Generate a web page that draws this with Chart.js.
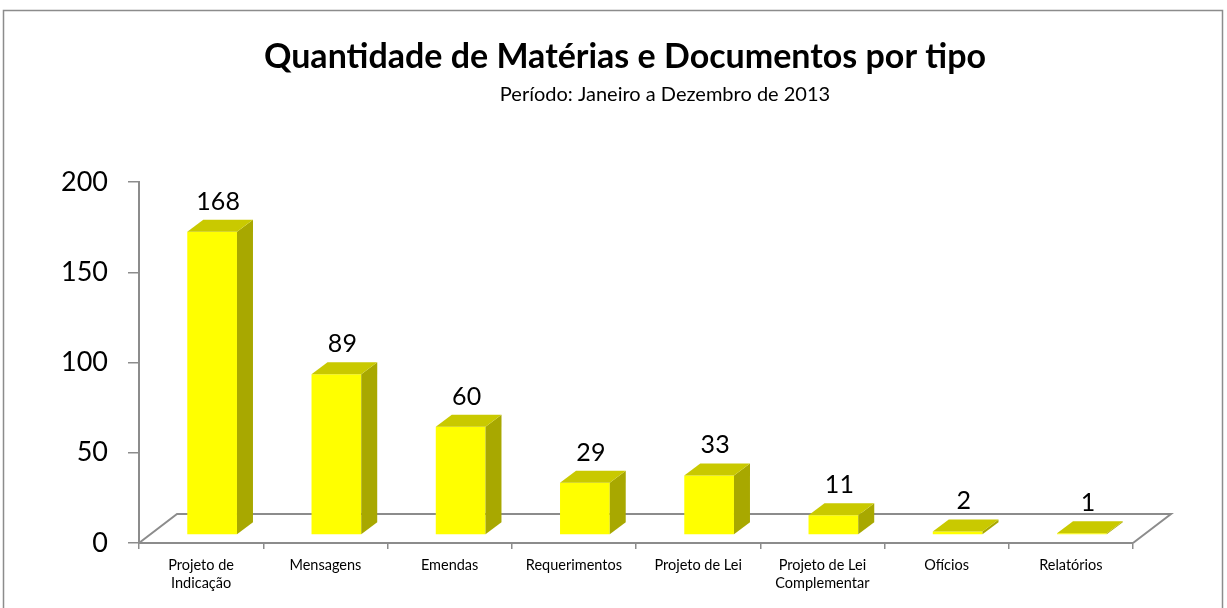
<!DOCTYPE html>
<html>
<head>
<meta charset="utf-8">
<script src="https://cdn.jsdelivr.net/npm/chart.js@4.4.0/dist/chart.umd.min.js"></script>
<style>
    body { margin: 0; background: #ffffff; }
    #wrap { position: relative; width: 1227px; height: 608px; }
</style>
</head>
<body>
<div id="wrap"><canvas id="grafico_Tipos"></canvas></div>
<script>
// dados do grafico
var categorias = [["Projeto de", "Indicação"], "Mensagens", "Emendas", "Requerimentos",
    "Projeto de Lei", ["Projeto de Lei", "Complementar"], "Ofícios", "Relatórios"];
var quantidades = [168, 89, 60, 29, 33, 11, 2, 1];
var ticksY = [0, 50, 100, 150, 200];

var tituloTexto = "Quantidade de Matérias e Documentos por tipo";
var subtituloTexto = "Período: Janeiro a Dezembro de 2013";

// cores das faces da barra 3d
var corFrente = "#FFFF00";
var corTopo = "#C9C900";
var corLado = "#A8A800";
var corEixo = "#8C8C8C";

var fonte = "Lato, 'Open Sans', sans-serif";

// profundidade da barra e do piso
var barDx = 16, barDy = 12;
var pisoDx = 38, pisoDy = 29;
var shiftX = 11, shiftY = -8;

var efeito3d = {
    id: "efeito3d",
    beforeDraw: function (chart) {
        var ctx = chart.ctx;
        ctx.save();
        // moldura
        ctx.strokeStyle = corEixo;
        ctx.lineWidth = 1.5;
        ctx.strokeRect(3.5, 10.5, 1219, 640);
        // titulo
        ctx.fillStyle = "#000";
        ctx.textAlign = "center";
        ctx.textBaseline = "middle";
        ctx.font = "bold 34px " + fonte;
        ctx.fillText(tituloTexto, 625, 57);
        ctx.font = "20px " + fonte;
        ctx.fillText(subtituloTexto, 665, 95);
        ctx.restore();
    },
    beforeDatasetsDraw: function (chart) {
        var ctx = chart.ctx;
        var a = chart.chartArea;
        // piso
        ctx.save();
        ctx.strokeStyle = corEixo;
        ctx.lineWidth = 2;
        ctx.beginPath();
        ctx.moveTo(a.left, a.bottom);
        ctx.lineTo(a.left + pisoDx, a.bottom - pisoDy);
        ctx.lineTo(a.right + pisoDx, a.bottom - pisoDy);
        ctx.lineTo(a.right, a.bottom);
        ctx.stroke();
        ctx.restore();

        ctx.save();
        ctx.translate(shiftX, shiftY);
    },
    afterDatasetsDraw: function (chart) {
        var ctx = chart.ctx;
        var meta = chart.getDatasetMeta(0);

        for (var i = 0; i < meta.data.length; i++) {
            var bar = meta.data[i];
            var left = bar.x - bar.width / 2;
            var right = bar.x + bar.width / 2;
            var top = bar.y;
            var base = bar.base;

            // lado
            ctx.fillStyle = corLado;
            ctx.beginPath();
            ctx.moveTo(right, top);
            ctx.lineTo(right + barDx, top - barDy);
            ctx.lineTo(right + barDx, base - barDy);
            ctx.lineTo(right, base);
            ctx.closePath();
            ctx.fill();

            // topo
            ctx.fillStyle = corTopo;
            ctx.beginPath();
            ctx.moveTo(left, top);
            ctx.lineTo(left + barDx, top - barDy);
            ctx.lineTo(right + barDx, top - barDy);
            ctx.lineTo(right, top);
            ctx.closePath();
            ctx.fill();

            // rotulo do valor
            ctx.fillStyle = "#000";
            ctx.font = "25px " + fonte;
            ctx.textAlign = "center";
            ctx.textBaseline = "alphabetic";
            ctx.fillText(String(quantidades[i]), bar.x + barDx / 2 - 2, top - barDy - 10);
        }
        ctx.restore();
    }
};

var canvas = document.getElementById("grafico_Tipos");
var ctx = canvas.getContext("2d");

var grafico = new Chart(ctx, {
    type: "bar",
    data: {
        labels: categorias,
        datasets: [{
            data: quantidades,
            backgroundColor: corFrente,
            borderWidth: 0,
            categoryPercentage: 1,
            barPercentage: 0.4,
            clip: false
        }]
    },
    options: {
        responsive: true,
        maintainAspectRatio: false,
        animation: false,
        layout: {
            padding: { left: 0, top: 182, right: 94, bottom: 0 }
        },
        plugins: {
            legend: { display: false },
            tooltip: { enabled: false }
        },
        scales: {
            x: {
                afterFit: function (scale) { scale.height = 65; },
                grid: {
                    offset: true,
                    drawOnChartArea: false,
                    color: corEixo,
                    tickLength: 6,
                    lineWidth: 1.5
                },
                border: { color: corEixo, width: 2 },
                ticks: {
                    color: "#000",
                    font: { family: fonte, size: 14.5, lineHeight: 1.24 },
                    padding: 7,
                    maxRotation: 0,
                    autoSkip: false
                }
            },
            y: {
                min: 0,
                max: 200,
                afterFit: function (scale) { scale.width = 139; },
                afterBuildTicks: function (scale) {
                    scale.ticks = ticksY.map(function (v) { return { value: v }; });
                },
                grid: {
                    drawOnChartArea: false,
                    color: corEixo,
                    tickLength: 11,
                    lineWidth: 1.5
                },
                border: { color: corEixo, width: 2 },
                ticks: {
                    color: "#000",
                    font: { family: fonte, size: 27 },
                    padding: 20
                }
            }
        }
    },
    plugins: [efeito3d]
});
</script>
</body>
</html>
